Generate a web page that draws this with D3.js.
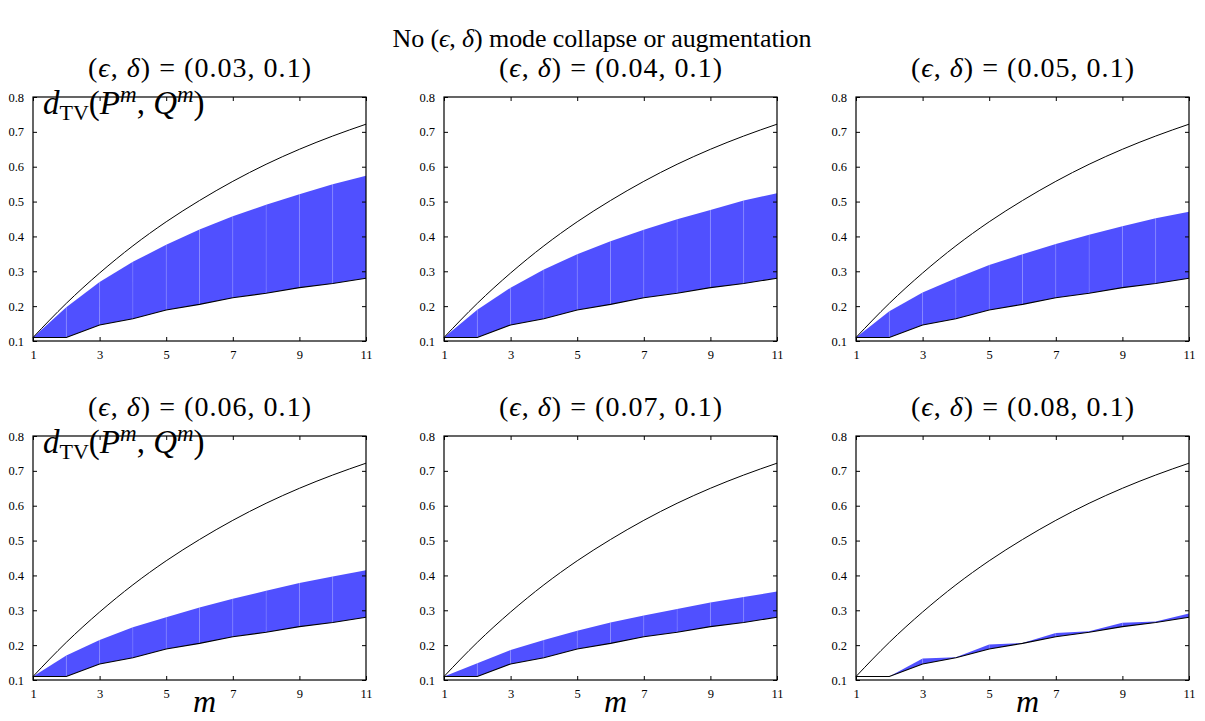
<!DOCTYPE html>
<html><head><meta charset="utf-8">
<script src="https://cdn.jsdelivr.net/npm/d3@7"></script>
<style>body{margin:0;background:#fff}svg{display:block}text{font-family:"Liberation Serif","Times New Roman",serif;fill:#000}</style>
</head><body><svg id="c" width="1205" height="721"></svg>
<script>
const mValues = [1,2,3,4,5,6,7,8,9,10,11];
const upperCurve = [0.11,0.208,0.295,0.373,0.442,0.503,0.558,0.607,0.65,0.688,0.722];
const lowerCurve = [0.11,0.11,0.146,0.164,0.189,0.205,0.224,0.237,0.253,0.265,0.28];
const epsilons = ["0.03","0.04","0.05","0.06","0.07","0.08"];
const deltaLabel = "0.1";
const band003 = [0.11,0.197,0.269,0.327,0.376,0.42,0.458,0.491,0.521,0.55,0.574];
const band004 = [0.11,0.19,0.253,0.305,0.349,0.386,0.419,0.449,0.476,0.503,0.524];
const band005 = [0.11,0.185,0.239,0.28,0.318,0.349,0.378,0.405,0.429,0.452,0.471];
const band006 = [0.11,0.17,0.215,0.251,0.28,0.308,0.333,0.356,0.378,0.397,0.415];
const band007 = [0.11,0.148,0.186,0.215,0.241,0.265,0.285,0.304,0.322,0.338,0.354];
const band008 = [0.11,0.11,0.162,0.165,0.202,0.206,0.235,0.24,0.264,0.268,0.291];
const bandTops = [band003,band004,band005,band006,band007,band008];
const xTicks = [1,3,5,7,9,11];
const yTicks = [0.1,0.2,0.3,0.4,0.5,0.6,0.7,0.8];

const FONT = "Liberation Serif";
const svg = d3.select("#c");
const W = 333, H = 244;
const colX = [33, 444, 856], rowY = [97, 436];
const x = d3.scaleLinear().domain([1,11]).range([0,W]);
const y = d3.scaleLinear().domain([0.1,0.8]).range([H,0]);

svg.append("text").attr("x",602).attr("y",47).attr("text-anchor","middle").attr("font-size",26).attr("font-family",FONT)
  .attr("textLength",419).attr("lengthAdjust","spacing")
  .call(t=>{t.append("tspan").text("No (");t.append("tspan").attr("font-style","italic").text("ϵ");
    t.append("tspan").text(", ");t.append("tspan").attr("font-style","italic").text("δ");
    t.append("tspan").text(") mode collapse or augmentation");});

epsilons.forEach((eps,i)=>{
  const r = Math.floor(i/3), c = i%3;
  const g = svg.append("g").attr("transform",`translate(${colX[c]},${rowY[r]})`);
  const top = bandTops[i];
  for(let k=0;k<mValues.length-1;k++){
    const pts=[[mValues[k],lowerCurve[k]],[mValues[k+1],lowerCurve[k+1]],[mValues[k+1],top[k+1]],[mValues[k],top[k]]];
    g.append("path").attr("d","M"+pts.map(p=>[x(p[0]),y(p[1])].join(",")).join("L")+"Z").attr("fill","#5050ff");
  }
  for(let k=1;k<mValues.length-1;k++){
    if(top[k]-lowerCurve[k]>0.004)
    g.append("line").attr("x1",x(mValues[k])).attr("x2",x(mValues[k])).attr("y1",y(top[k])).attr("y2",y(lowerCurve[k]))
      .attr("stroke","rgba(255,255,255,0.15)").attr("stroke-width",0.8);
  }
  const line = d3.line().x((d,j)=>x(mValues[j])).y(d=>y(d));
  g.append("path").attr("d",line.curve(d3.curveMonotoneX)(upperCurve)).attr("fill","none").attr("stroke","#000").attr("stroke-width",1);
  g.append("path").attr("d",d3.line().x((d,j)=>x(mValues[j])).y(d=>y(d))(lowerCurve)).attr("fill","none").attr("stroke","#000").attr("stroke-width",1.1);
  const tl=4;
  const bx=g.append("g").attr("transform",`translate(0,${H})`).call(d3.axisBottom(x).tickValues(xTicks).tickSize(-tl).tickPadding(9).tickFormat(d3.format("d")));
  const tx=g.append("g").call(d3.axisTop(x).tickValues(xTicks).tickSize(-tl).tickFormat(""));
  const ly=g.append("g").call(d3.axisLeft(y).tickValues(yTicks).tickSize(-tl).tickPadding(9).tickFormat(d3.format(".1f")));
  const ry=g.append("g").attr("transform",`translate(${W},0)`).call(d3.axisRight(y).tickValues(yTicks).tickSize(-tl).tickFormat(""));
  [bx,tx,ly,ry].forEach(a=>{a.attr("font-family",FONT);a.select(".domain").remove();a.selectAll("text").attr("font-size",12.5).attr("font-family",FONT);a.selectAll("line").attr("stroke","#000");});
  g.append("rect").attr("width",W).attr("height",H).attr("fill","none").attr("stroke","#000").attr("stroke-width",1.2);
  svg.append("text").attr("x",colX[c]+W/2).attr("y",rowY[r]-20).attr("text-anchor","middle").attr("font-size",28).attr("font-family",FONT)
    .attr("textLength",223).attr("lengthAdjust","spacing")
    .call(t=>{t.append("tspan").text("(");t.append("tspan").attr("font-style","italic").text("ϵ");
      t.append("tspan").text(", ");t.append("tspan").attr("font-style","italic").text("δ");
      t.append("tspan").text(`) = (${eps}, ${deltaLabel})`);});
  if(c===0){
    g.append("text").attr("x",10).attr("y",17).attr("font-size",33).attr("font-family",FONT)
      .call(t=>{t.append("tspan").attr("font-style","italic").text("d");
        t.append("tspan").attr("font-size",22).attr("dy",6).text("TV");
        t.append("tspan").attr("dy",-6).text("(");
        t.append("tspan").attr("font-style","italic").text("P");
        t.append("tspan").attr("font-style","italic").attr("font-size",23).attr("dy",-12).text("m");
        t.append("tspan").attr("dy",12).text(",  ");
        t.append("tspan").attr("font-style","italic").text("Q");
        t.append("tspan").attr("font-style","italic").attr("font-size",23).attr("dy",-12).text("m");
        t.append("tspan").attr("dy",12).text(")");});
  }
  if(r===1){
    g.append("text").attr("x",W/2+5).attr("y",H+32).attr("text-anchor","middle").attr("font-size",32).attr("font-style","italic").attr("font-family",FONT).text("m");
  }
});
</script></body></html>
